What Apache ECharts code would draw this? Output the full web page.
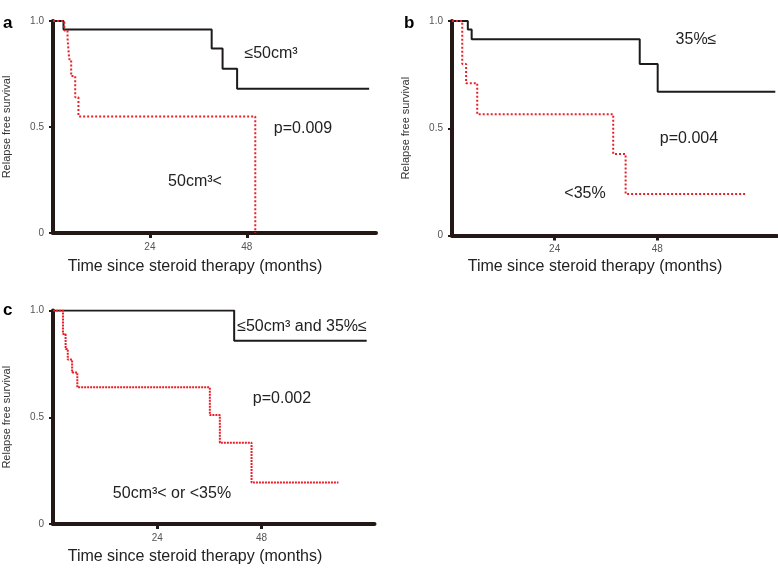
<!DOCTYPE html>
<html>
<head>
<meta charset="utf-8">
<script src="https://cdn.jsdelivr.net/npm/echarts@6/dist/echarts.min.js"></script>
<style>html,body{margin:0;padding:0;background:#fff}#c{width:778px;height:568px}</style>
</head>
<body>
<div id="c"></div>
<script>
// Panel a: tumour volume
const aLowMonths  = [0, 2.6, 39.3, 42.0, 45.6, 78.3];
const aLowSurv    = [1, 0.96, 0.87, 0.775, 0.68, 0.68];
const aHighMonths = [0, 2.8, 3.6, 4.0, 4.5, 5.5, 6.3, 50.1];
const aHighSurv   = [1, 0.955, 0.92, 0.82, 0.74, 0.64, 0.55, 0];
// Panel b: percentage
const bHighMonths = [0, 3.7, 4.6, 43.9, 48.1, 75.6];
const bHighSurv   = [1, 0.96, 0.915, 0.80, 0.67, 0.67];
const bLowMonths  = [0, 2.4, 3.3, 5.9, 37.7, 40.6, 69.0];
const bLowSurv    = [1, 0.80, 0.71, 0.565, 0.38, 0.194, 0.194];
// Panel c: combined
const cGoodMonths = [0, 41.7, 72.2];
const cGoodSurv   = [1, 0.858, 0.858];
const cPoorMonths = [0, 2.3, 2.9, 3.4, 4.4, 5.6, 36.1, 38.4, 45.7, 65.7];
const cPoorSurv   = [1, 0.89, 0.82, 0.77, 0.71, 0.64, 0.51, 0.381, 0.194, 0.194];

const xTickValues = [24, 48];
const yTickLabels = ['0', '0.5', '1.0'];
const xAxisMax = [80, 76, 74];

const xName = 'Time since steroid therapy (months)';
const yName = 'Relapse free survival';

function zip(m, s) { return m.map((v, i) => [v, s[i]]); }

const AX = '#231815';
const FONT = '"Liberation Sans", Arial, sans-serif';

const grids = [
  {left: 51, top: 21, width: 325, height: 212},
  {left: 452, top: 21, width: 325, height: 214.5},
  {left: 51.5, top: 310.5, width: 323, height: 213.5}
];

const xAxes = grids.map((g, i) => ({
  gridIndex: i, type: 'value', min: 0, max: xAxisMax[i],
  splitLine: {show: false},
  axisLine: {show: true, lineStyle: {color: AX, width: 4}},
  axisTick: {show: true, customValues: xTickValues, length: 5, lineStyle: {color: AX, width: 3}},
  axisLabel: {show: true, customValues: xTickValues, color: '#555', fontSize: 10, margin: 9, fontFamily: FONT}
}));

const yAxes = grids.map((g, i) => ({
  gridIndex: i, type: 'value', min: 0, max: 1, interval: 0.5,
  splitLine: {show: false},
  axisLine: {show: true, lineStyle: {color: AX, width: 4}},
  axisTick: {show: true, length: 4, lineStyle: {color: AX, width: 2}},
  axisLabel: {color: '#555', fontSize: 10, margin: 9, fontFamily: FONT,
    formatter: v => yTickLabels[Math.round(v * 2)]},
  name: yName, nameLocation: 'middle', nameGap: 41,
  nameTextStyle: {color: '#333', fontSize: 11, fontFamily: FONT}
}));

function blackSeries(idx, m, s) {
  return {type: 'line', step: 'end', xAxisIndex: idx, yAxisIndex: idx, data: zip(m, s),
    symbol: 'none', lineStyle: {color: '#1e1a1a', width: 2}, z: 3};
}
function redSeries(idx, m, s, dash) {
  return {type: 'line', step: 'end', xAxisIndex: idx, yAxisIndex: idx, data: zip(m, s),
    symbol: 'none', lineStyle: {color: '#e8202a', width: 2, type: dash}, z: 4};
}

function txt(x, y, text, opts) {
  return Object.assign({type: 'text', x: x, y: y, style: Object.assign({
    text: text, fill: '#222', font: '16px ' + FONT, align: 'center', verticalAlign: 'middle'
  }, opts || {})});
}

const graphics = [
  txt(3, 15, 'a', {font: 'bold 17px ' + FONT, fill: '#000', align: 'left', verticalAlign: 'alphabetic'}),
  txt(404, 15, 'b', {font: 'bold 17px ' + FONT, fill: '#000', align: 'left', verticalAlign: 'alphabetic'}),
  txt(3, 302, 'c', {font: 'bold 17px ' + FONT, fill: '#000', align: 'left', verticalAlign: 'alphabetic'}),
  txt(195, 267, xName),
  txt(595, 267, xName),
  txt(195, 557, xName),
  txt(271, 54, '≤50cm³'),
  txt(303, 129, 'p=0.009'),
  txt(195, 182, '50cm³<'),
  txt(696, 40, '35%≤'),
  txt(689, 139, 'p=0.004'),
  txt(585, 194, '<35%'),
  txt(302, 327, '≤50cm³ and 35%≤'),
  txt(282, 399, 'p=0.002'),
  txt(172, 494, '50cm³< or <35%')
];

const chart = echarts.init(document.getElementById('c'), null, {renderer: 'canvas'});
chart.setOption({
  animation: false,
  backgroundColor: '#fff',
  textStyle: {fontFamily: FONT},
  grid: grids,
  xAxis: xAxes,
  yAxis: yAxes,
  series: [
    blackSeries(0, aLowMonths, aLowSurv),
    redSeries(0, aHighMonths, aHighSurv, [2, 2]),
    blackSeries(1, bHighMonths, bHighSurv),
    redSeries(1, bLowMonths, bLowSurv, [2, 2]),
    blackSeries(2, cGoodMonths, cGoodSurv),
    redSeries(2, cPoorMonths, cPoorSurv, [2, 1])
  ],
  graphic: graphics
});
</script>
</body>
</html>
